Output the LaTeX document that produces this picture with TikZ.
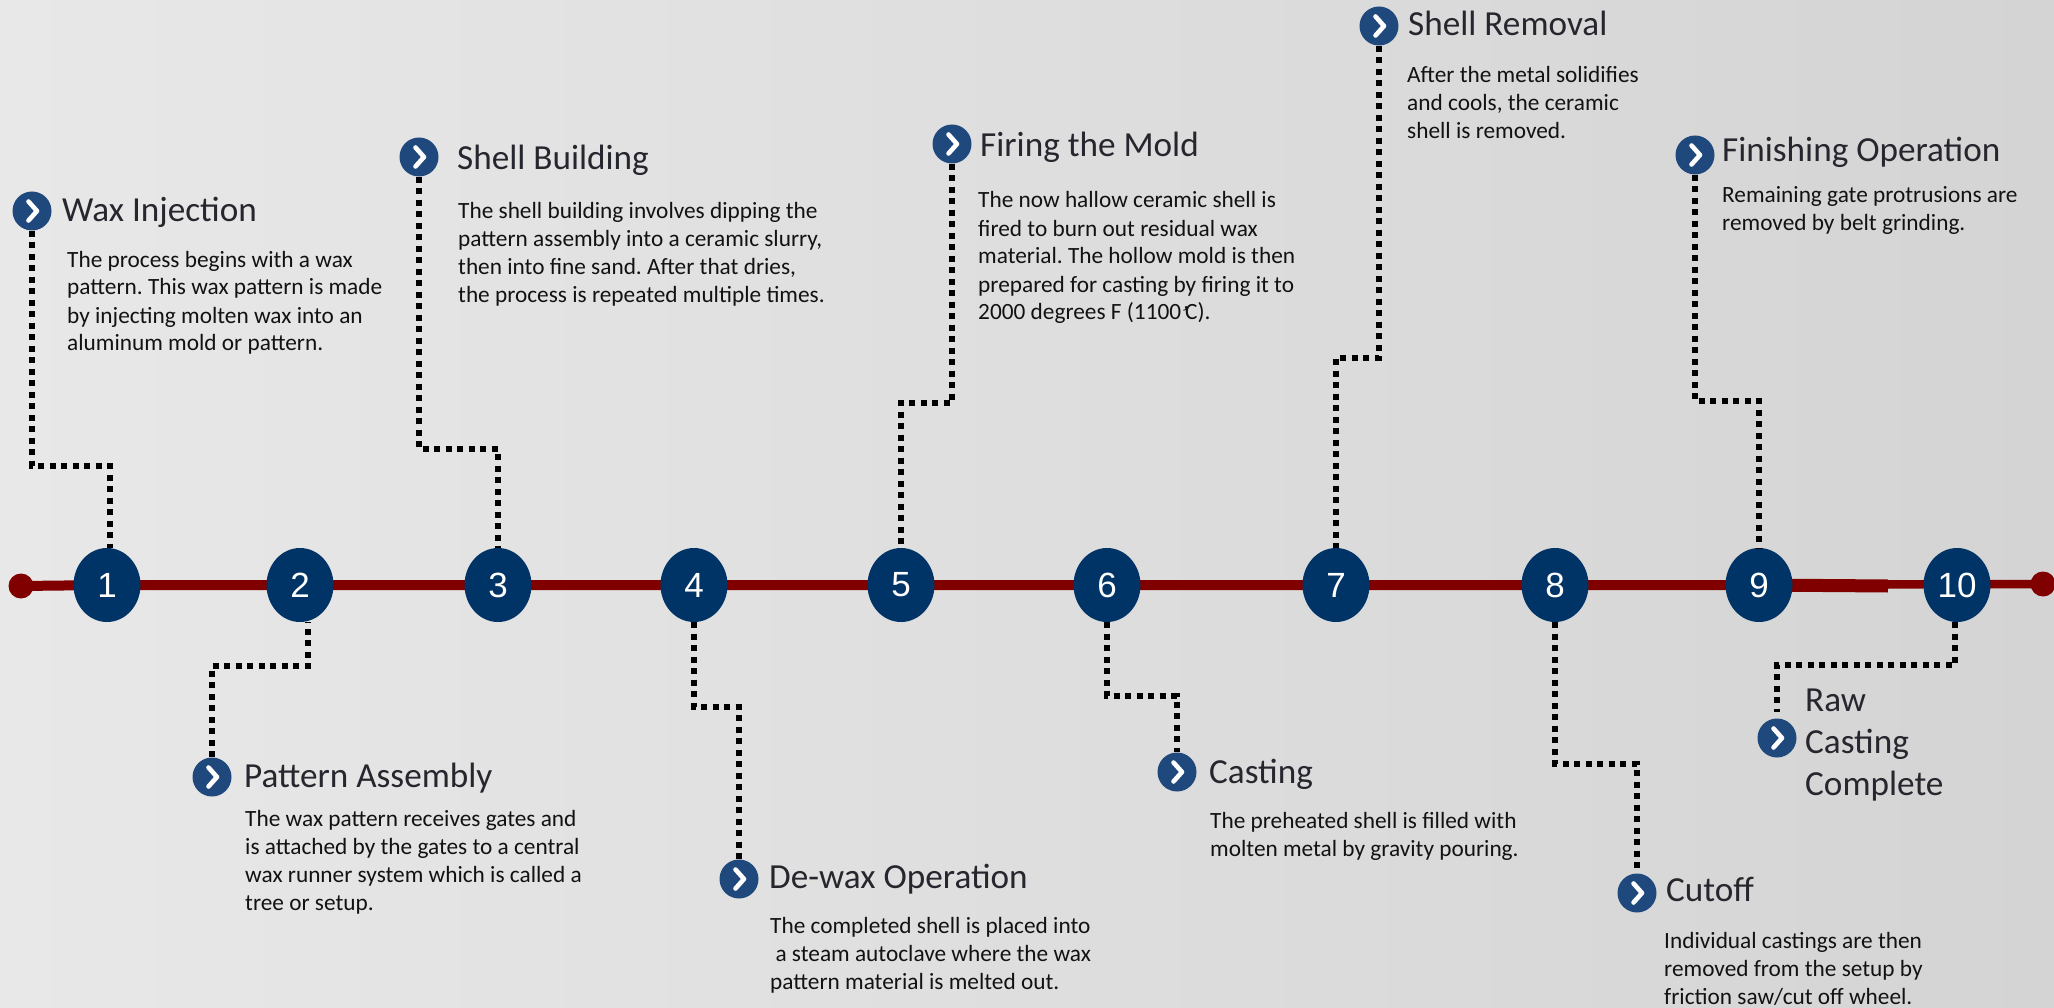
\documentclass[tikz,border=0pt]{standalone}
\usepackage{fontspec}
\setmainfont{Carlito}
\newfontfamily\numfont{Liberation Sans}
\usetikzlibrary{shapes.geometric}
\frenchspacing
\definecolor{navy}{RGB}{0,51,102}
\definecolor{bulletblue}{RGB}{31,73,125}
\definecolor{linered}{RGB}{128,0,0}
\definecolor{titlecol}{RGB}{38,38,46}
\definecolor{bodycol}{RGB}{18,18,18}
\definecolor{bgl}{RGB}{232,232,232}
\definecolor{bgm}{RGB}{240,240,240}
\definecolor{bgr}{RGB}{212,212,212}
\pgfdeclarelayer{back}
\pgfdeclarelayer{mid}
\pgfsetlayers{back,mid,main}
\tikzset{
  numcircle/.style={ellipse, fill=navy, minimum width=67pt, minimum height=74pt, inner sep=0pt, text=white, font=\numfont\fontsize{35}{40}\selectfont},
  bulletnode/.style={circle, fill=bulletblue, minimum size=39pt, inner sep=0pt,
    path picture={\draw[white, line width=4.6pt, line cap=round, line join=round]
      ([shift={(-3.5pt,9.5pt)}]path picture bounding box.center) --
      ([shift={(5pt,0pt)}]path picture bounding box.center) --
      ([shift={(-3.5pt,-9.5pt)}]path picture bounding box.center);}},
  titletext/.style={anchor=base west, inner sep=0pt, text=titlecol, font=\frenchspacing\fontsize{35.2}{42}\selectfont, align=left},
  bodytext/.style={anchor=base west, inner sep=0pt, text=bodycol, font=\frenchspacing\fontsize{23.3}{28}\selectfont, align=left},
  dotline/.style={line width=5.5pt, dash pattern=on 6pt off 5.5pt, black},
  endpoint/.style={circle, fill=linered, minimum size=25pt, inner sep=0pt},
}
\begin{document}
\begin{tikzpicture}[x=1pt,y=-1pt]
\begin{pgfonlayer}{back}
\shade[left color=bgl, middle color=bgm, right color=bgr] (0,0) rectangle (2054,1008);
\end{pgfonlayer}
\useasboundingbox (0,0) rectangle (2054,1008);

% timeline nodes
\node[endpoint] (ldot) at (21,586) {};
\node[endpoint] (rdot) at (2043,584) {};
\node[numcircle] (c1) at (107,585) {1};
\node[numcircle] (c2) at (300,585) {2};
\node[numcircle] (c3) at (498,585) {3};
\node[numcircle] (c4) at (694,585) {4};
\node[numcircle] (c5) at (901,585) {5};
\node[numcircle] (c6) at (1107,585) {6};
\node[numcircle] (c7) at (1336,585) {7};
\node[numcircle] (c8) at (1555,585) {8};
\node[numcircle] (c9) at (1759,585) {9};
\node[numcircle] (c10) at (1957,585) {10};
\coordinate (step) at (1888,586);

\begin{pgfonlayer}{mid}
\draw[linered, line width=10pt] (ldot.center) -- (c1.center) -- (c2.center) -- (c3.center) -- (c4.center) -- (c5.center) -- (c6.center) -- (c7.center) -- (c8.center) -- (c9.center);
\draw[linered, line width=13pt] (c9.center) -- (step);
\draw[linered, line width=8.5pt] ([yshift=1.5pt]step) -- ([yshift=1pt]c10.center) -- (rdot.center);
\end{pgfonlayer}

% bullets
\node[bulletnode] (b1) at (32,211) {};
\node[bulletnode] (b2) at (212,777) {};
\node[bulletnode] (b3) at (419,157) {};
\node[bulletnode] (b4) at (739,879) {};
\node[bulletnode] (b5) at (952,144) {};
\node[bulletnode] (b6) at (1177,772) {};
\node[bulletnode] (b7) at (1379,26) {};
\node[bulletnode] (b8) at (1637,893) {};
\node[bulletnode] (b9) at (1695,155) {};
\node[bulletnode] (b10) at (1777,738) {};

% titles (anchor = baseline of last line)
\node[titletext] (t1) at (62,222) {Wax Injection};
\node[titletext] (t2) at (244,787) {Pattern Assembly};
\node[titletext] (t3) at (457,170) {Shell Building};
\node[titletext] (t4) at (769,888) {De-wax Operation};
\node[titletext] (t5) at (980,157) {Firing the Mold};
\node[titletext] (t6) at (1209,783) {Casting};
\node[titletext] (t7) at (1408,36) {Shell Removal};
\node[titletext] (t8) at (1666,901) {Cutoff};
\node[titletext] (t9) at (1722,162) {Finishing Operation};
\node[titletext] (t10) at (1805,795) {Raw\\Casting\\Complete};

% bodies (anchor = baseline of last line)
\node[bodytext] (d1) at (67,351) {The process begins with a wax\\pattern. This wax pattern is made\\by injecting molten wax into an\\aluminum mold or pattern.};
\node[bodytext] (d2) at (245,910) {The wax pattern receives gates and\\is attached by the gates to a central\\wax runner system which is called a\\tree or setup.};
\node[bodytext] (d3) at (458,303) {The shell building involves dipping the\\pattern assembly into a ceramic slurry,\\then into fine sand. After that dries,\\the process is repeated multiple times.};
\node[bodytext] (d4) at (770,989) {The completed shell is placed into\\\hspace*{0.23em}a steam autoclave where the wax\\pattern material is melted out.};
\node[bodytext] (d5) at (978,320) {The now hallow ceramic shell is\\fired to burn out residual wax\\material. The hollow mold is then\\prepared for casting by firing it to\\2000 degrees F (1100̛\,C).};
\node[bodytext] (d6) at (1210,856) {The preheated shell is filled with\\molten metal by gravity pouring.};
\node[bodytext] (d7) at (1407,139) {After the metal solidifies\\and cools, the ceramic\\shell is removed.};
\node[bodytext] (d8) at (1664,1004) {Individual castings are then\\removed from the setup by\\friction saw/cut off wheel.};
\node[bodytext] (d9) at (1722,231) {Remaining gate protrusions are\\removed by belt grinding.};

% dotted connectors
\draw[dotline] (b1.south) |- (110,466) -- ([xshift=3pt]c1.north);
\draw[dotline] (b2.north) |- (308,666) -- ([xshift=8pt]c2.south);
\draw[dotline] (b3.south) |- (498,449) -- (c3.north);
\draw[dotline] (c4.south) |- (739,707) -- (b4.north);
\draw[dotline] (b5.south) |- (901,403) -- (c5.north);
\draw[dotline] (c6.south) |- (1177,696) -- (b6.north);
\draw[dotline] (b7.south) |- (1336,358) -- (c7.north);
\draw[dotline] (c8.south) |- (1637,764) -- (b8.north);
\draw[dotline] (b9.south) |- (1759,401) -- (c9.north);
\draw[dotline] ([xshift=-2pt]c10.south) |- (1777,665) -- ([yshift=6pt]b10.north);
\end{tikzpicture}
\end{document}
